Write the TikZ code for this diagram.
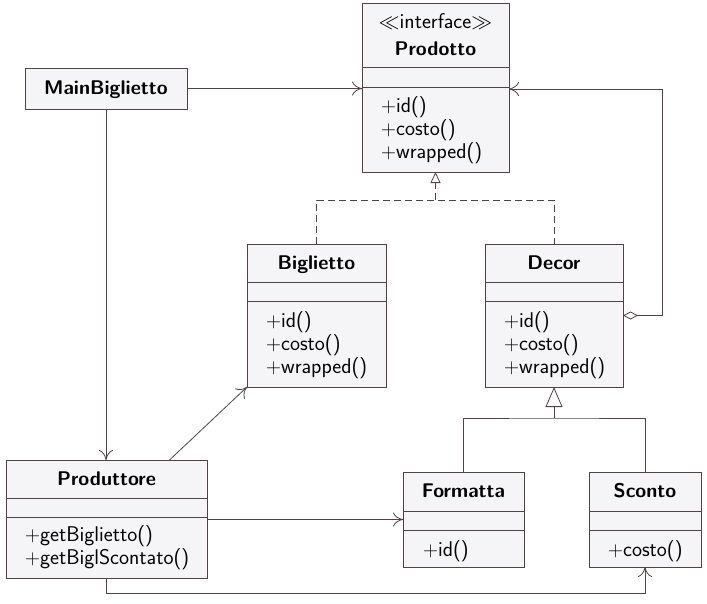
\documentclass[tikz,border=0pt]{standalone}
\usetikzlibrary{arrows.meta,calc}
\definecolor{umlline}{RGB}{78,68,70}
\definecolor{umlfill}{RGB}{245,245,247}
\newcommand\umldiv[2]{\draw[conn] (#1.west |- 0,#2) -- (#1.east |- 0,#2);}
\begin{document}
\begin{tikzpicture}[x=1pt,y=-1pt,
  font=\fontsize{21.3}{23}\selectfont\sffamily,
  cls/.style={draw=umlline, fill=umlfill, line width=0.8pt, inner sep=0pt, outer sep=0pt},
  conn/.style={draw=umlline, line width=0.8pt},
  nav/.style={conn, -{Computer Modern Rightarrow[length=10pt,width=14pt]}},
  title/.style={anchor=base, inner sep=0pt, font=\fontsize{19.8}{23}\selectfont\sffamily\bfseries},
  stereo/.style={anchor=base, inner sep=0pt},
  meth/.style={anchor=base west, inner sep=0pt},
  real/.style={conn, dash pattern=on 7pt off 4pt},
  ]
\useasboundingbox (0,0) rectangle (707,603);

% class boxes
\node[cls, minimum width=147pt, minimum height=169pt] (prod) at (435.5,87.5) {};
\node[cls, minimum width=162pt, minimum height=41pt] (main) at (106,88.5) {};
\node[cls, minimum width=139pt, minimum height=143pt] (big) at (316.5,315.5) {};
\node[cls, minimum width=138pt, minimum height=143pt] (dec) at (554,315.5) {};
\node[cls, minimum width=201pt, minimum height=118pt] (prodt) at (106.5,519) {};
\node[cls, minimum width=121pt, minimum height=95pt] (form) at (463.5,519.5) {};
\node[cls, minimum width=112pt, minimum height=95pt] (sconto) at (645,519.5) {};

% compartments
\umldiv{prod}{67}\umldiv{prod}{87}
\umldiv{big}{282}\umldiv{big}{301}
\umldiv{dec}{282}\umldiv{dec}{301}
\umldiv{prodt}{498}\umldiv{prodt}{517}
\umldiv{form}{511}\umldiv{form}{530}
\umldiv{sconto}{511}\umldiv{sconto}{530}

% texts
\node[stereo] (prodS) at (435.5,28) {$\ll$interface$\gg$};
\node[title] (prodT) at (435.5,55) {Prodotto};
\node[meth] (prodM1) at (381,112) {$+$id()};
\node[meth] (prodM2) at (381,135) {$+$costo()};
\node[meth] (prodM3) at (381,158) {$+$wrapped()};

\node[title] (mainT) at (106,94) {MainBiglietto};

\node[title] (bigT) at (316.5,269) {Biglietto};
\node[meth] (bigM1) at (266,327) {$+$id()};
\node[meth] (bigM2) at (266,350) {$+$costo()};
\node[meth] (bigM3) at (266,373) {$+$wrapped()};

\node[title] (decT) at (554,269) {Decor};
\node[meth] (decM1) at (504,327) {$+$id()};
\node[meth] (decM2) at (504,350) {$+$costo()};
\node[meth] (decM3) at (504,373) {$+$wrapped()};

\node[title] (prodtT) at (106.5,485) {Produttore};
\node[meth] (prodtM1) at (25,541) {$+$getBiglietto()};
\node[meth] (prodtM2) at (25,564) {$+$getBiglScontato()};

\node[title] (formT) at (463.5,497) {Formatta};
\node[meth] (formM1) at (423,556) {$+$id()};

\node[title] (scontoT) at (645,497) {Sconto};
\node[meth] (scontoM1) at (608,556) {$+$costo()};

% connectors
\draw[nav] (main.east) -- (main.east -| prod.west);
\draw[nav] (main.south) -- (main.south |- prodt.north);
\draw[nav] ([xshift=63pt]prodt.north) -- (big.south west);
\draw[nav] (form.west -| prodt.east) -- (form.west);
\draw[nav] (prodt.south) -- ++(0,15) -| (sconto.south);

\coordinate (j1) at (435.5,200);
\draw[real] (big.north) |- (j1) -| (dec.north);
\draw[real, -{Triangle[open,length=11pt,width=10pt,fill=white]}] (j1) -- (prod.south);

\coordinate (j2) at (554,418);
\draw[conn] (form.north) |- (j2) -| (sconto.north);
\draw[conn, -{Triangle[open,length=20pt,width=17pt,fill=white]}] (j2) -- (dec.south);

\coordinate (cR) at (662,89);
\draw[conn, {Diamond[open,length=15pt,width=8pt,fill=white]}-{Computer Modern Rightarrow[length=10pt,width=14pt]}] (dec.east) -| (cR) -- (cR -| prod.east);
\end{tikzpicture}
\end{document}
